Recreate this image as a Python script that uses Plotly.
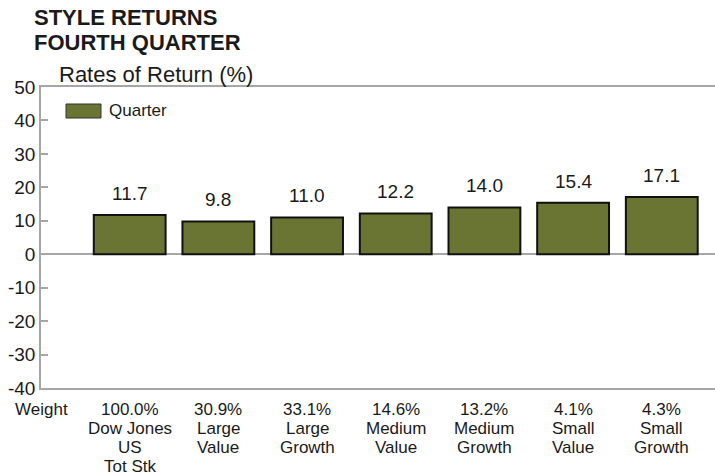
import plotly.graph_objects as go

categories = ["Dow Jones<br>US<br>Tot Stk", "Large<br>Value", "Large<br>Growth", "Medium<br>Value",
              "Medium<br>Growth", "Small<br>Value", "Small<br>Growth"]
weights = ["100.0%", "30.9%", "33.1%", "14.6%", "13.2%", "4.1%", "4.3%"]
quarter = [11.7, 9.8, 11.0, 12.2, 14.0, 15.4, 17.1]
y_ticks = [50, 40, 30, 20, 10, 0, -10, -20, -30, -40]
y_tick_text = ["50", "40", "30", "20", "10", "0", "-10", "-20", "-30", "-40"]

OLIVE = "#6b7533"
GRAY = "#a6a6a6"
TXT = "#1a1a1a"
FONT = "Arial, Liberation Sans, sans-serif"

xs = list(range(len(categories)))
fig = go.Figure()
fig.add_trace(go.Bar(x=xs, y=quarter, width=0.81, marker=dict(color=OLIVE, line=dict(color="#111", width=2)),
                     name="Quarter", showlegend=False, hoverinfo="skip"))

ann = []
for x, v in zip(xs, quarter):
    ann.append(dict(x=x, y=v, xref="x", yref="y", text=f"{v:.1f}", showarrow=False,
                    yanchor="bottom", yshift=9, font=dict(size=19, color=TXT, family=FONT)))

line_px = 19
ann.append(dict(x=-1, y=0, xref="x", yref="paper", text="Weight", showarrow=False,
                yanchor="middle", yshift=-21, font=dict(size=17, color=TXT, family=FONT)))
for x, w, c in zip(xs, weights, categories):
    lines = [w] + c.split("<br>")
    for k, t in enumerate(lines):
        ann.append(dict(x=x, y=0, xref="x", yref="paper", text=t, showarrow=False,
                        yanchor="middle", yshift=-21 - k * line_px,
                        font=dict(size=17, color=TXT, family=FONT)))

fig.update_layout(
    width=715, height=475,
    margin=dict(l=41, r=0, t=87, b=87),
    paper_bgcolor="white", plot_bgcolor="white",
    xaxis=dict(range=[-1.0, 6.6], showline=True, mirror=True, linecolor=GRAY, linewidth=1.5,
               showgrid=False, zeroline=False, showticklabels=False, ticks=""),
    yaxis=dict(range=[-40, 50], tickvals=y_ticks, ticktext=y_tick_text, showline=True, linecolor=GRAY,
               linewidth=1.5, ticks="inside", ticklen=7, tickcolor=GRAY, tickwidth=1.5, showgrid=False,
               zeroline=True, zerolinecolor=GRAY, zerolinewidth=1.5,
               ticklabelstandoff=0,
               tickfont=dict(size=19, color=TXT, family=FONT)),
    font=dict(family=FONT, color=TXT),
)
H = 475 - 87 - 87
W = 715 - 41
def py(ypix):
    return (388 - ypix) / H
def px(xpix):
    return (xpix - 41) / W
ann.append(dict(x=px(32), y=py(18), xref="paper", yref="paper", xanchor="left", yanchor="middle",
                text="<b>STYLE RETURNS</b>", showarrow=False, font=dict(size=22, color=TXT, family=FONT)))
ann.append(dict(x=px(32), y=py(43), xref="paper", yref="paper", xanchor="left", yanchor="middle",
                text="<b>FOURTH QUARTER</b>", showarrow=False, font=dict(size=22, color=TXT, family=FONT)))
ann.append(dict(x=px(57), y=py(75), xref="paper", yref="paper", xanchor="left", yanchor="middle",
                text="Rates of Return (%)", showarrow=False, font=dict(size=22, color=TXT, family=FONT)))
ann.append(dict(x=px(107), y=py(111), xref="paper", yref="paper", xanchor="left", yanchor="middle",
                text="Quarter", showarrow=False, font=dict(size=17, color=TXT, family=FONT)))
fig.add_shape(type="rect", xref="paper", yref="paper", x0=px(66), x1=px(101), y0=py(118), y1=py(104),
              fillcolor=OLIVE, line=dict(color="#333", width=1))
fig.update_layout(annotations=ann)
fig.write_html("out.html", config={"displayModeBar": False},
               post_script="document.body.style.margin='0';")
